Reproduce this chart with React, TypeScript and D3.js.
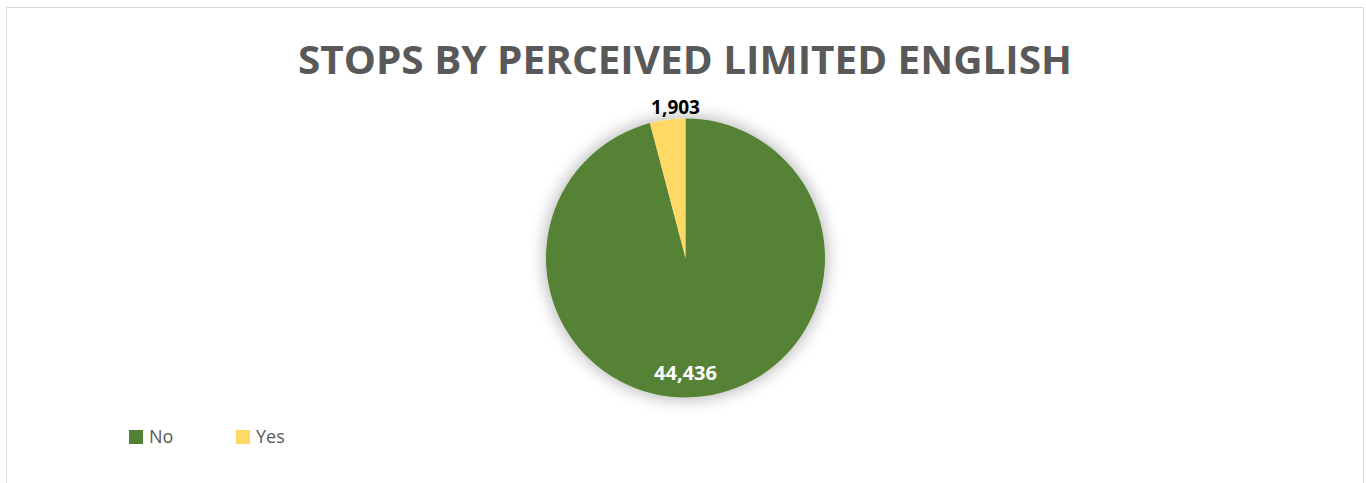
import React from "react";
import * as d3 from "d3";

const categories = ["No", "Yes"];
const values = [44436, 1903];
const colors = ["#548235", "#FFD966"];
const labelColors = ["#FFFFFF", "#000000"];

const W = 1366;
const H = 483;

export default function App() {
  const cx = 685.5;
  const cy = 258;
  const r = 139.5;
  const pie = d3.pie<number>().sort(null).value((d) => d);
  const arcs = pie(values);
  const arc = d3.arc<d3.PieArcDatum<number>>().innerRadius(0).outerRadius(r);
  const fmt = d3.format(",");
  // label placement (radius factor, angle) roughly mimicking Excel "best fit"
  const labelPos = [
    { rf: 0.825, ang: Math.PI },
    { rf: 1.085, ang: -0.066 },
  ];

  return (
    <svg
      width={W}
      height={H}
      style={{ position: "absolute", left: 0, top: 0 }}
    >
      <defs>
        <filter id="shadow" x="-50%" y="-50%" width="200%" height="200%">
          <feGaussianBlur in="SourceAlpha" stdDeviation="9" />
          <feComponentTransfer>
            <feFuncA type="linear" slope="0.35" />
          </feComponentTransfer>
          <feMerge>
            <feMergeNode />
            <feMergeNode in="SourceGraphic" />
          </feMerge>
        </filter>
      </defs>
      <rect x={0} y={0} width={W} height={H} fill="#ffffff" />
      <rect
        x={6.5}
        y={7.5}
        width={1357}
        height={490}
        fill="#ffffff"
        stroke="#d9d9d9"
        strokeWidth={1}
      />
      <text
        x={685}
        y={74}
        textAnchor="middle"
        fontFamily="'Open Sans', sans-serif"
        fontWeight={700}
        fontSize={39}
        fill="#595959"
        textLength={774}
        lengthAdjust="spacingAndGlyphs"
      >
        STOPS BY PERCEIVED LIMITED ENGLISH
      </text>
      <g transform={`translate(${cx},${cy})`}>
        <g filter="url(#shadow)">
          {arcs.map((a, i) => (
            <path key={i} d={arc(a) || ""} fill={colors[i]} />
          ))}
        </g>
        {arcs.map((a, i) => {
          const lr = labelPos[i].rf * r;
          const ang = labelPos[i].ang;
          const x = lr * Math.sin(ang);
          const y = -lr * Math.cos(ang);
          return (
            <text
              key={i}
              x={x}
              y={y}
              dy="0.35em"
              textAnchor="middle"
              fontFamily="'Open Sans', sans-serif"
              fontWeight={700}
              fontSize={i === 0 ? 20 : 19}
              fill={labelColors[i]}
            >
              {fmt(a.data)}
            </text>
          );
        })}
      </g>
      {categories.map((c, i) => (
        <g key={c} transform={`translate(${129 + i * 107},430)`}>
          <rect x={0} y={0} width={14} height={14} fill={colors[i]} />
          <text
            x={20}
            y={13}
            fontFamily="'Open Sans', sans-serif"
            fontSize={18}
            fill="#595959"
          >
            {c}
          </text>
        </g>
      ))}
    </svg>
  );
}
